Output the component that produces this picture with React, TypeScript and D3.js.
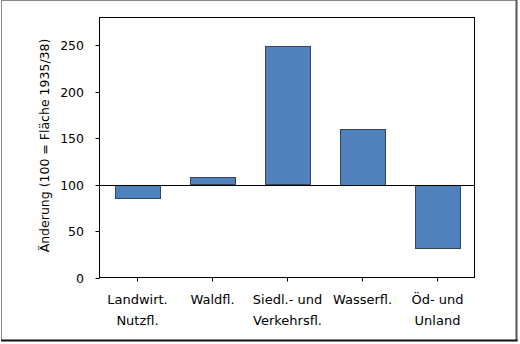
import React from "react";
import * as d3 from "d3";

const categories: string[][] = [
  ["Landwirt.", "Nutzfl."],
  ["Waldfl."],
  ["Siedl.- und", "Verkehrsfl."],
  ["Wasserfl."],
  ["Öd- und", "Unland"],
];
const values: number[] = [86, 108, 249, 160, 32];
const yTicks: number[] = [0, 50, 100, 150, 200, 250];
const baseline = 100;
const yTitle = "Änderung (100 = Fläche 1935/38)";

const W = 520;
const H = 344;
const plot = { left: 99.5, right: 474.5, top: 17.5, bottom: 277.5 };
const FONT = "'DejaVu Sans', Verdana, sans-serif";

export default function App() {
  const keys = categories.map((c) => c.join(" "));
  const x = d3
    .scaleBand<string>()
    .domain(keys)
    .range([plot.left, plot.right])
    .paddingInner(0.4)
    .paddingOuter(0.2);
  const y = d3.scaleLinear().domain([0, 280]).range([plot.bottom, plot.top]);

  return (
    <svg
      width={W}
      height={H}
      style={{ position: "absolute", left: 0, top: 0, background: "#fff" }}
      fontFamily={FONT}
    >
      <rect x={0} y={0} width={W} height={H} fill="#fff" />
      {/* outer frame */}
      <line x1={1} y1={0.5} x2={516} y2={0.5} stroke="#8a8a8a" strokeWidth={1} />
      <line x1={1.5} y1={0} x2={1.5} y2={340} stroke="#8a8a8a" strokeWidth={1} />
      <line x1={516.5} y1={0} x2={516.5} y2={341} stroke="#555" strokeWidth={2} />
      <line x1={1} y1={340.5} x2={517.5} y2={340.5} stroke="#111" strokeWidth={2} />

      {/* plot frame */}
      <rect
        x={plot.left}
        y={plot.top}
        width={plot.right - plot.left}
        height={plot.bottom - plot.top}
        fill="#fff"
        stroke="#000"
        strokeWidth={1}
      />

      {/* bars */}
      {values.map((v, i) => {
        const k = keys[i];
        const y0 = y(Math.max(v, baseline));
        const y1 = y(Math.min(v, baseline));
        return (
          <rect
            key={k}
            x={Math.round(x(k)!) + 0.5}
            y={Math.round(y0) + 0.5}
            width={Math.round(x.bandwidth())}
            height={Math.round(y1 - y0)}
            fill="#4f81bd"
            stroke="#34465e"
            strokeWidth={1}
          />
        );
      })}

      {/* baseline */}
      <line
        x1={plot.left}
        x2={plot.right}
        y1={Math.round(y(baseline)) + 0.5}
        y2={Math.round(y(baseline)) + 0.5}
        stroke="#000"
        strokeWidth={1}
      />

      {/* y ticks */}
      {yTicks.map((t) => {
        const yy = Math.round(y(t)) + 0.5;
        return (
          <g key={t}>
            <line x1={plot.left - 4} x2={plot.left} y1={yy} y2={yy} stroke="#000" />
            <text
              x={84}
              y={yy}
              textAnchor="end"
              dominantBaseline="central"
              fontSize={12.5}
              fill="#000"
            >
              {t}
            </text>
          </g>
        );
      })}

      {/* x ticks and labels */}
      {categories.map((lines, i) => {
        const k = keys[i];
        const cx = Math.round(x(k)! + x.bandwidth() / 2) + 0.5;
        return (
          <g key={k}>
            <line x1={cx} x2={cx} y1={plot.bottom} y2={plot.bottom + 4} stroke="#000" />
            {lines.map((l, j) => (
              <text
                key={j}
                x={cx}
                y={299 + j * 21.7}
                textAnchor="middle"
                dominantBaseline="central"
                fontSize={13}
                fill="#000"
              >
                {l}
              </text>
            ))}
          </g>
        );
      })}

      {/* y title */}
      <text
        transform={`translate(44.5, ${(plot.top + plot.bottom) / 2 - 2}) rotate(-90)`}
        textAnchor="middle"
        dominantBaseline="central"
        fontSize={12.5}
        fill="#000"
      >
        {yTitle}
      </text>
    </svg>
  );
}
